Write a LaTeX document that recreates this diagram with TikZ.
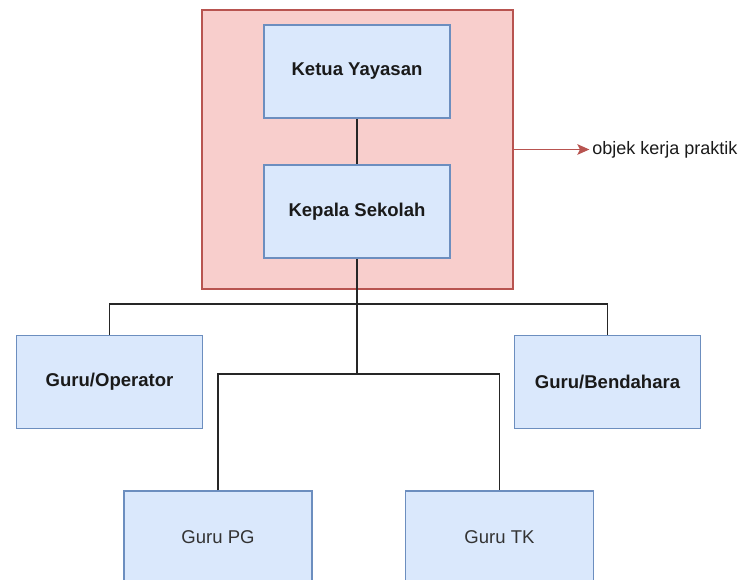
\documentclass[tikz,border=0pt]{standalone}
\usepackage{fontspec}
\setmainfont{Liberation Sans}
\usetikzlibrary{arrows.meta}
\definecolor{bluefill}{HTML}{DAE8FC}
\definecolor{bluedraw}{HTML}{6C8EBF}
\definecolor{redfill}{HTML}{F8CECC}
\definecolor{reddraw}{HTML}{B85450}
\definecolor{txt}{HTML}{1A1A1A}
\tikzset{
  bluebox/.style={draw=bluedraw, fill=bluefill, line width=0.9pt, rectangle,
    minimum width=139.5pt, minimum height=69.75pt, inner sep=0pt, text=txt,
    font=\fontsize{13.9pt}{16pt}\selectfont\bfseries},
  lowbox/.style={bluebox, font=\fontsize{13.9pt}{16pt}\selectfont, text={black!80},
    minimum width=141pt},
  redbox/.style={draw=reddraw, fill=redfill, line width=0.9pt, rectangle,
    minimum width=233.25pt, minimum height=209.25pt, inner sep=0pt},
  conn/.style={draw=black!85, line width=0.8pt},
  redarrow/.style={draw=reddraw, line width=1pt, shorten >=2pt,
    -{Stealth[length=9pt,width=8pt,inset=2pt]}},
  lbl/.style={font=\fontsize{13.5pt}{16pt}\selectfont, text=txt, inner sep=0pt, anchor=west}
}
\begin{document}
\begin{tikzpicture}[x=0.75pt, y=-0.75pt]
\useasboundingbox (0,0) rectangle (744,580);
\clip (0,0) rectangle (744,580);
\node[redbox] (red) at (357.5,149.5) {};
\node[bluebox] (ketua) at (357,71.5) {Ketua Yayasan};
\node[bluebox] (kepala) at (357,211.5) {Kepala Sekolah};
\node[bluebox] (operator) at (109.5,382) {Guru/Operator};
\node[bluebox] (bendahara) at (607.5,382) {Guru/Bendahara};
\node[lowbox] (pg) at (218,537.5) {Guru PG};
\node[lowbox] (tk) at (499.5,537.5) {Guru TK};
\node[lbl] (obj) at (592,149.5) {objek kerja praktik};
\coordinate (j1) at (357,304);
\coordinate (j2) at (357,374);
\draw[conn] (ketua.south) -- (kepala.north);
\draw[conn] (kepala.south) -- (j2);
\draw[conn] (operator.north) |- (j1) -| (bendahara.north);
\draw[conn] (pg.north) |- (j2) -| (tk.north);
\draw[redarrow] (red.east) -- (obj.west);
\end{tikzpicture}
\end{document}
